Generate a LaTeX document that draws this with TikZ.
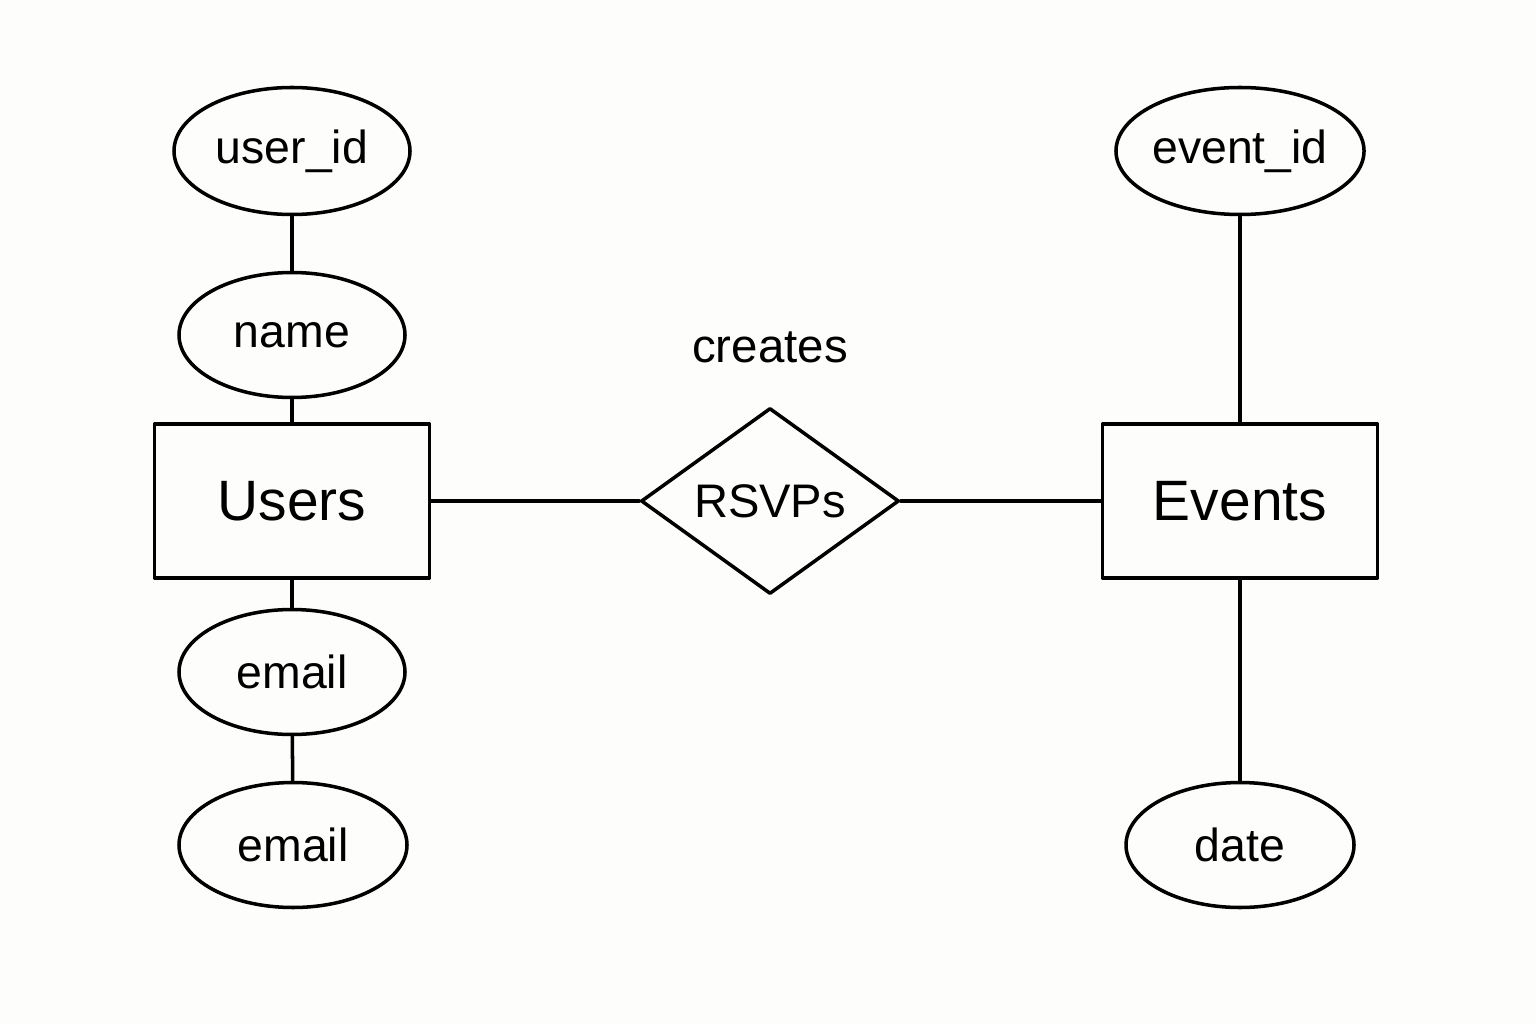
\documentclass[tikz,border=0pt]{standalone}
\usepackage{fontspec}
\setmainfont{Liberation Sans}
\usetikzlibrary{shapes.geometric}
\definecolor{paper}{RGB}{253,253,251}
\begin{document}
\begin{tikzpicture}[x=1cm,y=1cm,line width=1pt,line cap=round,line join=round,
    attr/.style={draw,ellipse,inner sep=0pt,minimum width=2.26cm,minimum height=1.25cm,
      font=\fontsize{13.2}{15}\selectfont},
    entity/.style={draw,rectangle,minimum width=2.75cm,minimum height=1.54cm,
      font=\fontsize{16.2}{19}\selectfont},
    relation/.style={draw,diamond,inner sep=0pt,minimum width=2.58cm,minimum height=1.86cm,
      font=\fontsize{13.4}{16}\selectfont}]
    \fill[paper] (0,0) rectangle (15.36,10.24);
    % entities and relation
    \node[entity] (users) at (2.92,5.23) {Users};
    \node[entity] (events) at (12.40,5.23) {Events};
    \node[relation] (rsvps) at (7.70,5.23) {RSVPs};
    \node[font=\fontsize{13.5}{15}\selectfont] (creates) at (7.70,6.77) {creates};
    % attributes
    \node[attr,minimum width=2.36cm,minimum height=1.27cm] (userid) at (2.92,8.73) {user\_id};
    \node[attr] (name) at (2.92,6.89) {name};
    \node[attr] (email) at (2.92,3.52) {email};
    \node[attr,minimum width=2.28cm] (emailb) at (2.93,1.79) {email};
    \node[attr,minimum width=2.38cm,minimum height=1.27cm] (eventid) at (12.40,8.73) {event\_id};
    \node[attr,minimum width=2.28cm] (date) at (12.40,1.79) {date};
    % connectors
    \draw (userid) -- (name);
    \draw (name) -- (users);
    \draw (users) -- (email);
    \draw (email) -- (emailb);
    \draw (users) -- (rsvps);
    \draw (rsvps) -- (events);
    \draw (eventid) -- (events);
    \draw (events) -- (date);
\end{tikzpicture}
\end{document}
